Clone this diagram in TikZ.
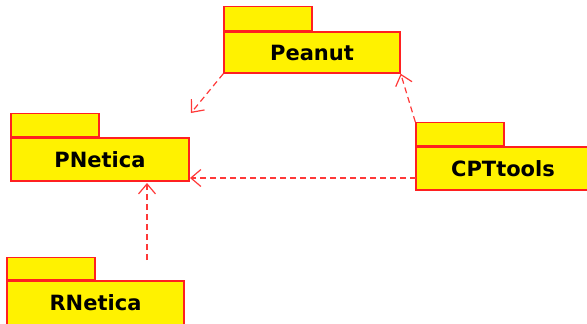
\documentclass[tikz,border=0pt]{standalone}
\usepackage{fontspec}
\setmainfont{DejaVu Sans}
\usetikzlibrary{arrows.meta}
\definecolor{pkgred}{HTML}{FF2020}
\definecolor{deprred}{HTML}{FF3838}
\tikzset{
  pkgbody/.style={draw=pkgred, fill=yellow, line width=1.4pt, rectangle, inner sep=0pt,
    font=\bfseries\fontsize{21}{25}\selectfont},
  pkgtab/.style={draw=pkgred, fill=yellow, line width=1.4pt, rectangle, inner sep=0pt,
    minimum width=88pt, anchor=south west},
  dep/.style={draw=deprred, line width=1.2pt, dash pattern=on 6pt off 4pt,
    -{Straight Barb[length=10pt,width=17pt,line width=1.2pt]}}
}
\begin{document}
\begin{tikzpicture}[x=1pt,y=-1pt]
\useasboundingbox (0,0) rectangle (587,324);
% Peanut
\node[pkgbody, minimum width=176pt, minimum height=41pt] (peanut) at (312,52.5) {Peanut};
\node[pkgtab, minimum height=24pt] (peanuttab) at (peanut.north west) {};
% PNetica
\node[pkgbody, minimum width=178pt, minimum height=43pt] (pnetica) at (100,159.5) {PNetica};
\node[pkgtab, minimum height=23pt] (pneticatab) at (pnetica.north west) {};
% CPTtools
\node[pkgbody, minimum width=174pt, minimum height=43pt] (cpt) at (503,168.5) {CPTtools};
\node[pkgtab, minimum height=23pt] (cpttab) at (cpt.north west) {};
% RNetica
\node[pkgbody, minimum width=177pt, minimum height=44pt] (rnetica) at (95.5,303) {RNetica};
\node[pkgtab, minimum height=22pt] (rneticatab) at (rnetica.north west) {};
% coordinates
\coordinate (pnend) at (191,113);
\coordinate (cptleft) at (416,178);
\coordinate (pnright) at (190,178);
\coordinate (rnstart) at (147,260);
\coordinate (pnbottom) at (147,183);
% dependencies
\draw[dep] (peanut.south west) -- (pnend);
\draw[dep] (cpttab.north west) -- (peanut.south east);
\draw[dep] (cptleft) -- (pnright);
\draw[dep] (rnstart) -- (pnbottom);
\end{tikzpicture}
\end{document}
